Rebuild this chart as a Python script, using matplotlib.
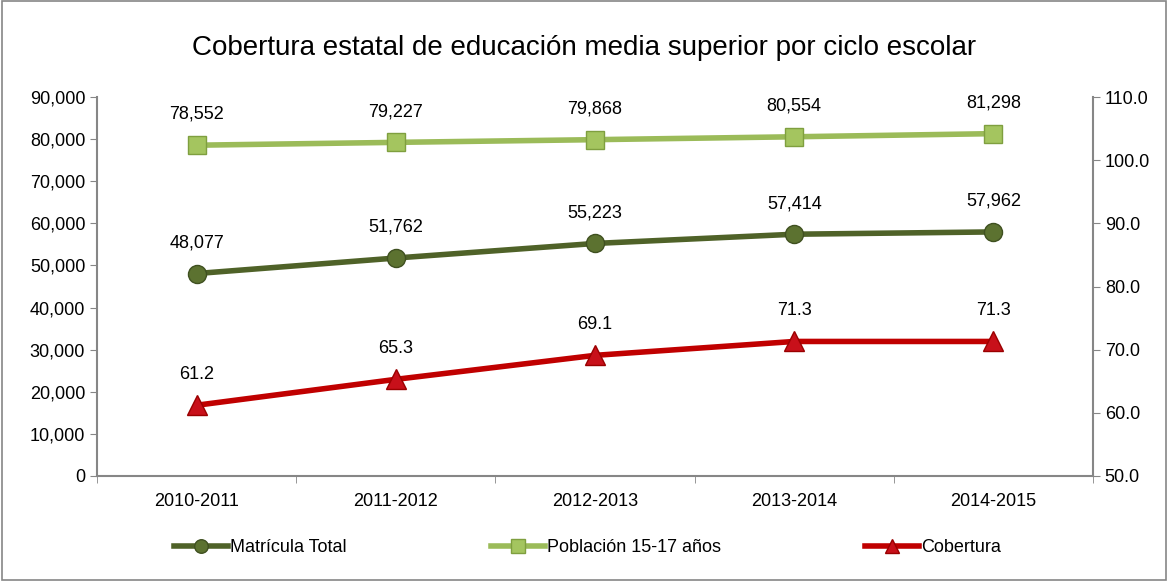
import matplotlib
matplotlib.use("Agg")
import matplotlib.pyplot as plt
from matplotlib import font_manager as fm
from matplotlib.patches import Rectangle

names = {f.name for f in fm.fontManager.ttflist}
fam = "Liberation Sans Narrow" if "Liberation Sans Narrow" in names else "Liberation Sans"
plt.rcParams['font.family'] = [fam, 'DejaVu Sans']

categories = ["2010-2011", "2011-2012", "2012-2013", "2013-2014", "2014-2015"]
matricula = [48077, 51762, 55223, 57414, 57962]
poblacion = [78552, 79227, 79868, 80554, 81298]
cobertura = [61.2, 65.3, 69.1, 71.3, 71.3]
left_ticks = [0, 10000, 20000, 30000, 40000, 50000, 60000, 70000, 80000, 90000]
right_ticks = [50, 60, 70, 80, 90, 100, 110]

c_mat = "#4F6228"
c_pob = "#9BBB59"
c_cob = "#C00000"
gray = "#868686"

fig = plt.figure(figsize=(11.68, 5.81), dpi=100)
fig.patches.append(Rectangle((0.002, 0.002), 0.996, 0.996, transform=fig.transFigure,
                             fill=False, edgecolor=gray, linewidth=1.2))
ax = fig.add_axes([97/1168, 1-476/581, (1093-97)/1168, (476-97)/581])
ax2 = ax.twinx()

x = list(range(len(categories)))
ax.plot(x, poblacion, color=c_pob, lw=4, marker="s", ms=13, mfc="#A4C55F",
        mec="#7F9F3F", mew=1, label="Población 15-17 años", zorder=3)
ax.plot(x, matricula, color=c_mat, lw=4, marker="o", ms=13, mfc="#5C7230",
        mec="#3F5020", mew=1, label="Matrícula Total", zorder=3)
ax2.plot(x, cobertura, color=c_cob, lw=4, marker="^", ms=14, mfc="#C8101A",
         mec="#9A0000", mew=1, label="Cobertura", zorder=3)

for xi, v in zip(x, poblacion):
    ax.annotate(f"{v:,}", (xi, v), xytext=(0, 16), textcoords="offset points",
                ha="center", va="bottom", fontsize=13)
for xi, v in zip(x, matricula):
    ax.annotate(f"{v:,}", (xi, v), xytext=(0, 16), textcoords="offset points",
                ha="center", va="bottom", fontsize=13)
for xi, v in zip(x, cobertura):
    ax2.annotate(f"{v:.1f}", (xi, v), xytext=(0, 16), textcoords="offset points",
                 ha="center", va="bottom", fontsize=13)

ax.set_xlim(-0.5, len(categories) - 0.5)
ax.set_ylim(0, 90000)
ax.set_yticks(left_ticks)
ax.set_yticklabels([f"{t:,}" for t in left_ticks], fontsize=13)
ax2.set_ylim(50, 110)
ax2.set_yticks(right_ticks)
ax2.set_yticklabels([f"{t:.1f}" for t in right_ticks], fontsize=13)

ax.set_xticks(x)
ax.set_xticklabels(categories, fontsize=13)
ax.set_xticks([i + 0.5 for i in range(-1, len(categories))], minor=True)
ax.tick_params(axis="x", which="major", length=0, pad=12)
ax.tick_params(axis="x", which="minor", length=5, color=gray)
ax.tick_params(axis="y", length=5, color=gray, direction="out")
ax2.tick_params(axis="y", length=5, color=gray, direction="out")

for a in (ax, ax2):
    for s in a.spines.values():
        s.set_visible(False)
ax.spines["bottom"].set_visible(True)
ax.spines["bottom"].set_color(gray)
ax.spines["bottom"].set_linewidth(1.5)
ax.spines["left"].set_visible(True)
ax.spines["left"].set_color(gray)
ax.spines["left"].set_linewidth(1.5)
ax2.spines["right"].set_visible(True)
ax2.spines["right"].set_color(gray)
ax2.spines["right"].set_linewidth(1.5)

fig.text(0.5, 1 - 48/581, "Cobertura estatal de educación media superior por ciclo escolar",
         ha="center", va="center", fontsize=20)

h1, l1 = ax.get_legend_handles_labels()
h2, l2 = ax2.get_legend_handles_labels()
handles = [h1[1], h1[0], h2[0]]
labels = [l1[1], l1[0], l2[0]]
fig.legend(handles, labels, loc="center", bbox_to_anchor=(0.503, 1 - 548/581), ncol=3,
           frameon=False, fontsize=13, handlelength=3.0, handletextpad=0.1,
           columnspacing=8.0, markerscale=0.75)

fig.savefig("out.png", dpi=100)
